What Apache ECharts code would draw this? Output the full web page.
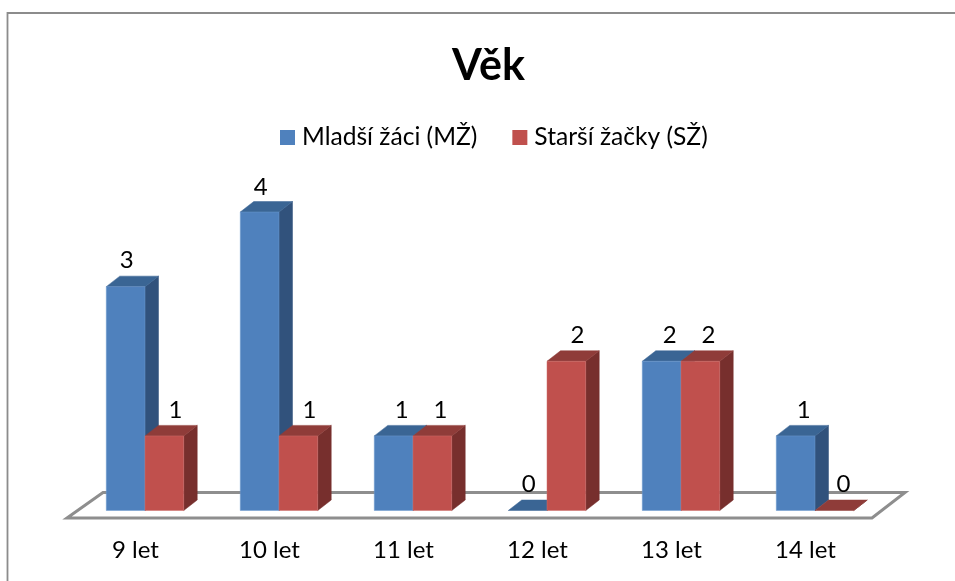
<!DOCTYPE html>
<html><head><meta charset="utf-8">
<style>html,body{margin:0;padding:0;background:#fff}#c{width:955px;height:581px}</style>
<script src="https://cdn.jsdelivr.net/npm/echarts@6/dist/echarts.min.js"></script>
</head><body><div id="c"></div>
<script>
const categories = ['9 let','10 let','11 let','12 let','13 let','14 let'];
const youngerBoys = [3,4,1,0,2,1];
const olderGirls  = [1,1,1,2,2,0];
const seriesNames = ['Mladší žáci (MŽ)','Starší žačky (SŽ)'];
const blueShift = [1,1,8,1,8,8];
const redShift  = [11,11,8,11,8,9];

const FONT = 'Lato';
const DEPTH_X = 13.5, DEPTH_Y = 10.5, BAR_RATIO = 0.289;
const FACES = [
  {front:'#4F81BD', side:'#31527C', top:'#3A6594', edge:'#6F9BCF'},
  {front:'#C0504D', side:'#772F2D', top:'#8F3C39', edge:'#CC6E6B'}
];

function barItem(idx, shifts){
  return function(params, api){
    const cat = api.value(0), val = api.value(1);
    const top = api.coord([cat, val]), base = api.coord([cat, 0]);
    const w = api.size([1,0])[0] * BAR_RATIO;
    const x0 = idx === 0 ? top[0]-w : top[0], x1 = x0 + w;
    const y0 = top[1], y1 = base[1], c = FACES[idx];
    const poly = (pts, fill) => ({type:'polygon', shape:{points:pts}, style:{fill, stroke:fill, lineWidth:0.5}});
    const children = [];
    children.push(poly([[x1,y1],[x1+DEPTH_X,y1-DEPTH_Y],[x1+DEPTH_X,y0-DEPTH_Y],[x1,y0]], c.side));
    children.push(poly([[x0,y0],[x0+DEPTH_X,y0-DEPTH_Y],[x1+DEPTH_X,y0-DEPTH_Y],[x1,y0]], c.top));
    if (val > 0) children.push({type:'rect', shape:{x:x0,y:y0,width:w,height:y1-y0},
      style:{fill:c.front, stroke:c.edge, lineWidth:0.5}});
    children.push({type:'text', z2:100, style:{
      text:String(val), x:(x0+x1)/2+shifts[cat], y:y0-26+(val===4?1.5:0), align:'center', verticalAlign:'middle',
      font:'24px '+FONT, fill:'#000'}});
    return {type:'group', children};
  };
}
function toData(values){ return values.map((v,i)=>[i,v]); }

const chart = echarts.init(document.getElementById('c'), null, {renderer:'canvas'});
chart.setOption({
  animation:false,
  backgroundColor:'#fff',
  title:{text:'Věk', left:447, top:40, textStyle:{fontFamily:FONT, fontWeight:'bold', fontSize:43, color:'#000'}},
  legend:{left:275, top:120, itemWidth:15, itemHeight:15, itemGap:35, icon:'rect', data:seriesNames,
    textStyle:{fontFamily:FONT, fontSize:24.6, color:'#000', padding:[0,0,0,2]}},
  grid:{left:78, right:73, top:212, height:298.5},
  xAxis:{type:'category', data:categories, axisLine:{show:false}, axisTick:{show:false}, splitLine:{show:false},
    axisLabel:{margin:28, fontFamily:FONT, fontSize:24, color:'#000', padding:[0,19,0,0]}},
  yAxis:{type:'value', min:0, max:4, interval:1, show:false},
  graphic:[{type:'polyline', shape:{points:[[7.5,581],[7.5,13],[955,13]]}, style:{stroke:'#8C8C8C', lineWidth:1.8, fill:null}, silent:true}],
  series:[
    {type:'custom', silent:true, coordinateSystem:'cartesian2d', data:[[0,0]], z:1,
     renderItem(params){
       const g = params.coordSys, b = g.y+g.height;
       const L = g.x, R = g.x+g.width;
       return {type:'polygon', shape:{points:[[L-11,b+7.5],[L+25,b-18],[R+23,b-18],[R-10,b+7.5]]},
         style:{fill:'#fff', stroke:'#8E8E8E', lineWidth:3}};
     }},
    {name:seriesNames[0], type:'custom', z:2, itemStyle:{color:FACES[0].front}, data:toData(youngerBoys), renderItem:barItem(0,blueShift), silent:true},
    {name:seriesNames[1], type:'custom', z:3, itemStyle:{color:FACES[1].front}, data:toData(olderGirls), renderItem:barItem(1,redShift), silent:true}
  ]
});
</script></body></html>
